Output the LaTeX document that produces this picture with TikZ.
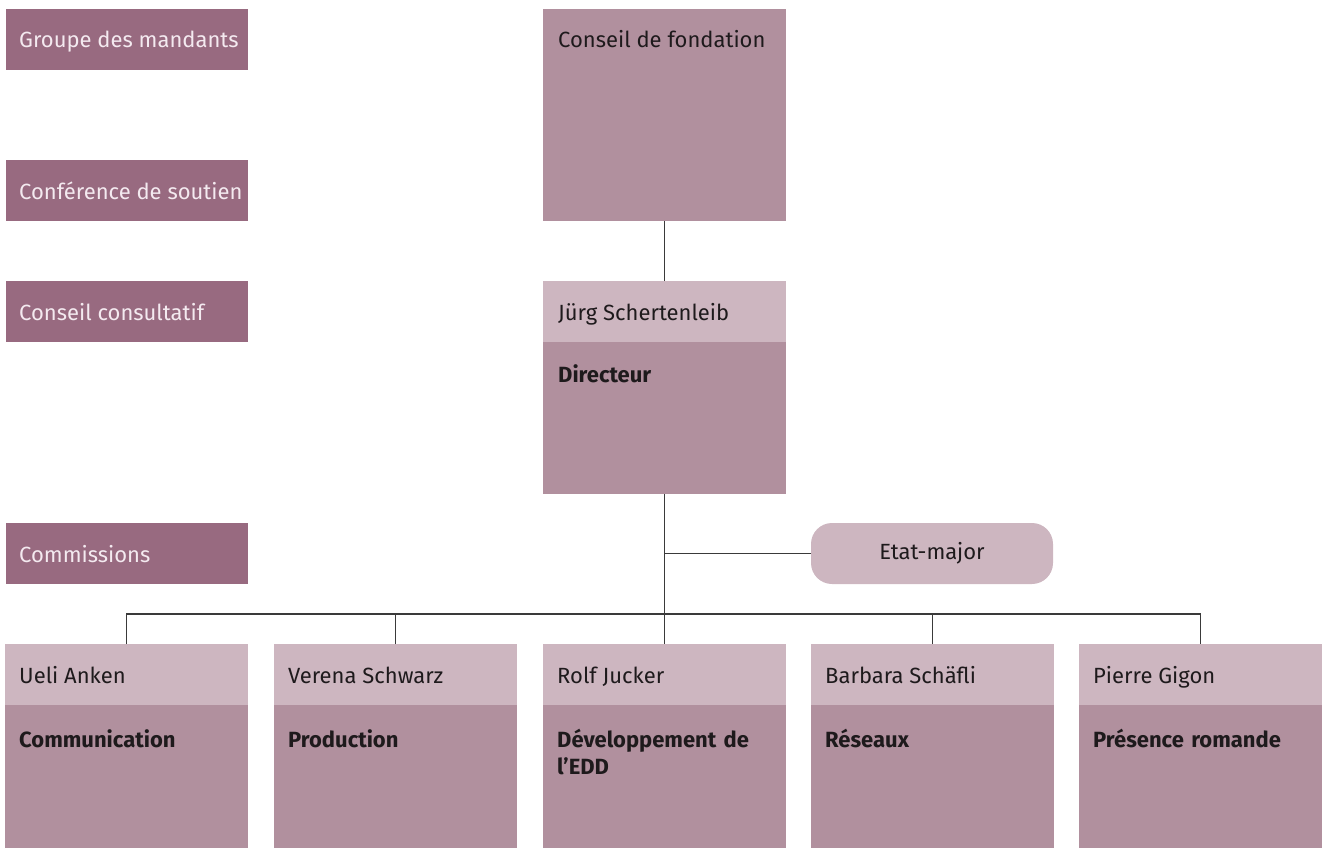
\documentclass[tikz,border=0pt]{standalone}
\usepackage{fontspec}
\setmainfont{Fira Sans}
\definecolor{cDark}{HTML}{986A80}
\definecolor{cBody}{HTML}{B1909E}
\definecolor{cHead}{HTML}{CDB6C0}
\definecolor{cLightTxt}{HTML}{F4EAF0}
\definecolor{cTxt}{HTML}{1E1A1C}
\definecolor{cLine}{HTML}{3A3A3A}
\begin{document}
\begin{tikzpicture}[x=1pt,y=-1pt,
  box/.style={inner sep=0pt, outer sep=0pt, anchor=north west, draw=none},
  leftbox/.style={box, fill=cDark, minimum width=242pt, minimum height=61pt},
  headbox/.style={box, fill=cHead, minimum width=243pt, minimum height=61pt},
  bodybox/.style={box, fill=cBody, minimum width=243pt},
  ltxt/.style={anchor=base west, inner sep=0pt, text=cLightTxt, font=\fontsize{22}{27}\selectfont},
  ntxt/.style={anchor=base west, inner sep=0pt, text=cTxt, font=\fontsize{22}{27}\selectfont},
  btxt/.style={anchor=base west, inner sep=0pt, text=cTxt, font=\fontsize{22}{27}\selectfont\bfseries, text width=225pt, align=left},
  conn/.style={draw=cLine, line width=1.1pt}
]
\useasboundingbox (0,0) rectangle (1328,848);

% left column
\node[leftbox] (g1) at (6,9) {};
\node[ltxt] (g1t) at (19,48) {Groupe des mandants};
\node[leftbox] (g2) at (6,160) {};
\node[ltxt] (g2t) at (19,199) {Conférence de soutien};
\node[leftbox] (g3) at (6,281) {};
\node[ltxt] (g3t) at (19,320) {Conseil consultatif};
\node[leftbox] (g4) at (6,523) {};
\node[ltxt] (g4t) at (19,562) {Commissions};

% Conseil de fondation
\node[bodybox, minimum height=212pt] (cf) at (543,9) {};
\node[ntxt] (cft) at (558,48) {Conseil de fondation};

% Directeur
\node[headbox] (jh) at (543,281) {};
\node[ntxt] (jht) at (558,320) {Jürg Schertenleib};
\node[bodybox, minimum height=152pt] (jb) at (543,342) {};
\node[btxt] (jbt) at (558,382) {Directeur};

% Etat-major
\node[box, anchor=center, fill=cHead, minimum width=242pt, minimum height=61pt, rounded corners=21pt,
      text=cTxt, font=\fontsize{22}{27}\selectfont] (em) at (932,553.5) {Etat-major};

% bottom row
\foreach \i/\xx/\nme/\dept in {1/5/Ueli Anken/Communication,
                          2/274/Verena Schwarz/Production,
                          3/543/Rolf Jucker/{Développement de\\l’EDD},
                          4/811/Barbara Schäfli/Réseaux,
                          5/1079/Pierre Gigon/Présence romande}{
  \node[headbox] (h\i) at (\xx,644) {};
  \node[ntxt] (ht\i) at (\xx+14,683) {\nme};
  \node[bodybox, minimum height=143pt] (b\i) at (\xx,705) {};
  \node[btxt] (bt\i) at (\xx+14,747) {\dept};
}

% connectors
\coordinate (bus) at (664,614);
\draw[conn] (cf.south) -- (jh.north);
\draw[conn] (jb.south) -- (h3.north);
\draw[conn] (em.west) -- (em.west -| jb.south);
\draw[conn] (h1.north) |- (bus) -| (h5.north);
\draw[conn] (h2.north) -- (h2.north |- bus);
\draw[conn] (h4.north) -- (h4.north |- bus);
\end{tikzpicture}
\end{document}
